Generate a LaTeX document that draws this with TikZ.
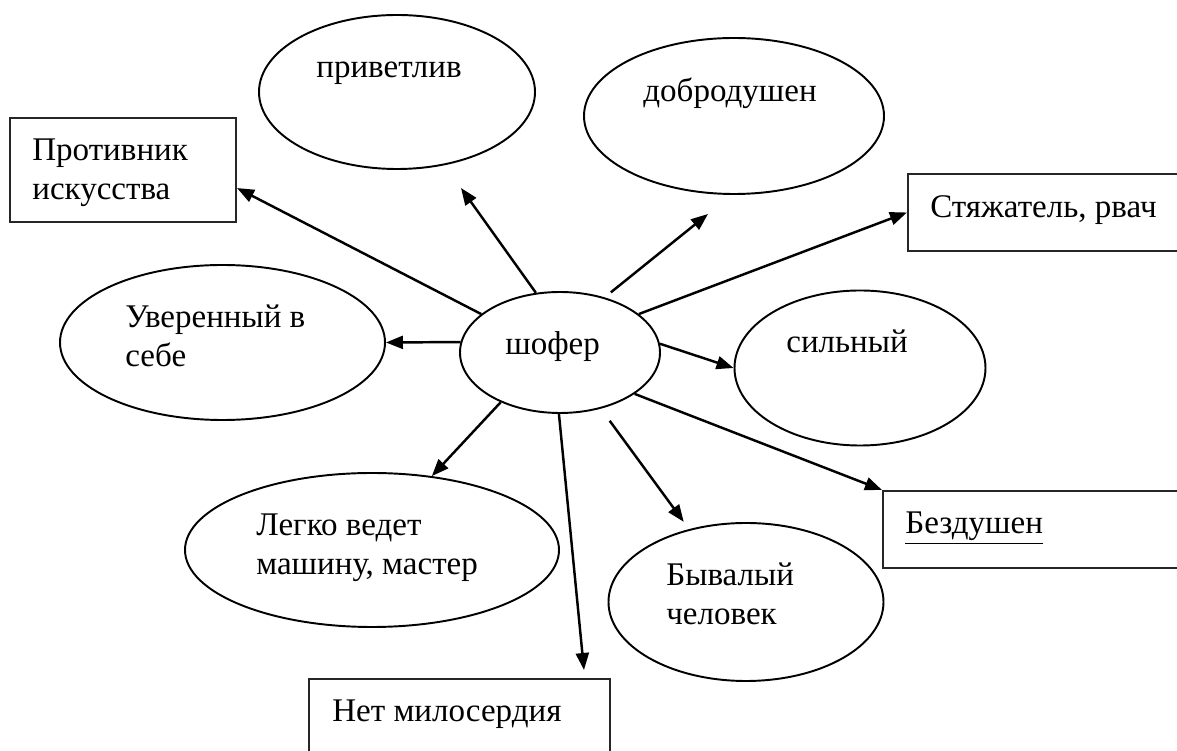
\documentclass[tikz,border=0pt]{standalone}
\usepackage{fontspec}
\setmainfont{LiberationSerif}[Extension=.ttf,UprightFont=*-Regular,BoldFont=*-Bold]
\usetikzlibrary{arrows.meta}
\usetikzlibrary{calc}
\usetikzlibrary{shapes.geometric}

\begin{document}
\begin{tikzpicture}[font=\fontsize{18.8}{22.5}\selectfont,
		oval/.style={draw,ellipse,line width=1.1pt,inner sep=0pt},
		box/.style={draw=black!85,rectangle,line width=1.2pt,inner sep=0pt},
		txt/.style={anchor=base west,inner sep=0pt,align=left},
		arr/.style={line width=1.4pt,-{Triangle[length=3.4mm,width=2.6mm]}}]
					\clip (0,0) rectangle (23.54,-15.02);
					% ovals
					\node[oval,minimum width=5.52cm,minimum height=3.08cm] (privet) at (7.94,-1.84) {};
					\node[oval,minimum width=6.00cm,minimum height=3.12cm] (dobro) at (14.68,-2.32) {};
					\node[oval,minimum width=6.50cm,minimum height=3.10cm] (uveren) at (4.45,-6.85) {};
					\node[oval,minimum width=4.00cm,minimum height=2.42cm] (shofer) at (11.20,-7.05) {};
					\node[oval,minimum width=5.02cm,minimum height=3.10cm] (silny) at (17.20,-7.36) {};
					\node[oval,minimum width=7.48cm,minimum height=3.08cm] (legko) at (7.44,-11.00) {};
					\node[oval,minimum width=5.50cm,minimum height=3.16cm] (byval) at (14.92,-12.04) {};
					% boxes
					\node[box,minimum width=4.52cm,minimum height=2.08cm] (protiv) at (2.46,-3.40) {};
					\node[box,minimum width=5.64cm,minimum height=1.54cm] (styazh) at (20.98,-4.25) {};
					\node[box,minimum width=6.14cm,minimum height=1.54cm] (bezdush) at (20.73,-10.59) {};
					\node[box,minimum width=6.02cm,minimum height=1.54cm] (netmil) at (9.19,-14.35) {};
					% texts (base = last line)
					\node[txt] (protiv-t) at (0.64,-4.00) {Противник\\искусства};
					\node[txt] (privet-t) at (6.32,-1.56) {приветлив};
					\node[txt] (dobro-t) at (12.86,-2.04) {добродушен};
					\node[txt] (styazh-t) at (18.60,-4.36) {Стяжатель, рвач};
					\node[txt] (uveren-t) at (2.50,-7.34) {Уверенный в\\себе};
					\node[txt] (shofer-t) at (10.10,-7.10) {шофер};
					\node[txt] (silny-t) at (15.72,-7.06) {сильный};
					\node[txt] (legko-t) at (5.12,-11.50) {Легко ведет\\машину, мастер};
					\node[txt] (byval-t) at (13.32,-12.50) {Бывалый\\человек};
					\node[txt] (bezdush-t) at (18.10,-10.68) {\underline{Бездушен}};
					\node[txt] (netmil-t) at (6.64,-14.44) {Нет милосердия};
					% free ends
					\coordinate (privet-end) at (9.22,-3.76);
					\coordinate (dobro-end) at (14.16,-4.28);
					\coordinate (netmil-end) at (11.68,-13.40);
					% arrows
					\draw[arr] (shofer.154.7) -- (protiv.-9.5);
					\draw[arr] (shofer.112.8) -- (privet-end);
					\draw[arr,shorten <=0.16cm] (shofer.51) -- (dobro-end);
					\draw[arr] (shofer.26) -- (styazh.west);
					\draw[arr] (shofer.5.5) -- (silny.west);
					\draw[arr] (shofer.174.6) -- (uveren.east);
					\draw[arr] (shofer.220.4) -- (legko.51.4);
					\draw[arr] (shofer.269) -- (netmil-end);
					\draw[arr,shorten <=0.3cm,shorten >=0.18cm] (shofer.306) -- (byval.128.6);
					\draw[arr] (shofer.331) -- (bezdush.north west);
				\end{tikzpicture}
\end{document}
